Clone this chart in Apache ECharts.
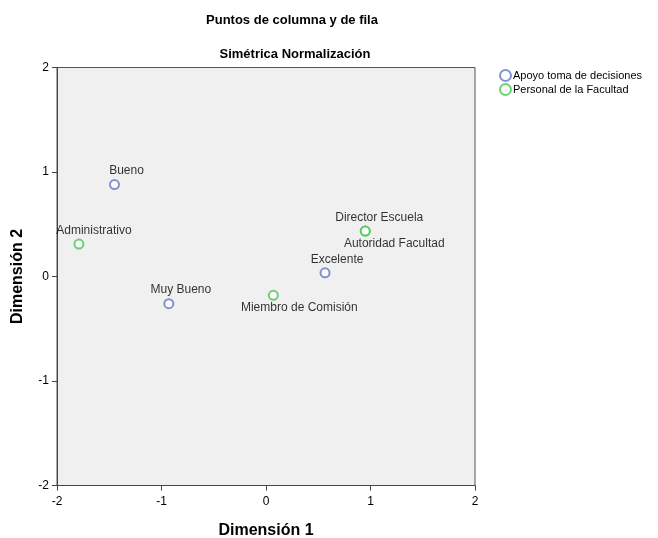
<!DOCTYPE html>
<html>
<head>
<meta charset="utf-8">
<script src="https://cdn.jsdelivr.net/npm/echarts@6/dist/echarts.min.js"></script>
<style>
  html, body { margin: 0; padding: 0; background: #fff; }
  #chart { width: 658px; height: 538px; }
</style>
</head>
<body>
<div id="chart"></div>
<script>
// Row points: "Apoyo toma de decisiones"
const rowNames = ['Bueno', 'Muy Bueno', 'Excelente'];
const rowDim1 = [-1.45, -0.93, 0.565];
const rowDim2 = [0.88, -0.26, 0.035];

// Column points: "Personal de la Facultad"
const colNames = ['Administrativo', 'Miembro de Comisión', 'Director Escuela', 'Autoridad Facultad'];
const colDim1 = [-1.79, 0.07, 0.95, 0.95];
const colDim2 = [0.31, -0.18, 0.435, 0.435];

const axisTicks = [-2, -1, 0, 1, 2];
const seriesNames = ['Apoyo toma de decisiones', 'Personal de la Facultad'];

// Label placement per point (side and horizontal shift)
const labelPlace = {
  'Bueno': ['top', 12],
  'Muy Bueno': ['top', 12],
  'Excelente': ['top', 12],
  'Administrativo': ['top', 15],
  'Miembro de Comisión': ['bottom', 26],
  'Director Escuela': ['top', 14],
  'Autoridad Facultad': ['bottom', 29]
};

const FONT = '"Liberation Sans", Arial, sans-serif';

function buildData(names, xs, ys) {
  return names.map((n, i) => {
    const p = labelPlace[n];
    return {
      name: n,
      value: [xs[i], ys[i]],
      label: { position: p[0], offset: [p[1], 0], distance: p[0] === 'top' ? 2 : 1 }
    };
  });
}

const chart = echarts.init(document.getElementById('chart'));

const labelStyle = {
  show: true,
  formatter: '{b}',
  color: '#000',
  fontFamily: FONT,
  fontSize: 12
};

chart.setOption({
  animation: false,
  backgroundColor: '#ffffff',
  title: [
    {
      text: 'Puntos de columna y de fila',
      left: 287, top: 9, textAlign: 'center',
      textStyle: { fontFamily: FONT, fontSize: 13, fontWeight: 'bold', color: '#000' }
    },
    {
      text: 'Simétrica Normalización',
      left: 290, top: 43, textAlign: 'center',
      textStyle: { fontFamily: FONT, fontSize: 13, fontWeight: 'bold', color: '#000' }
    }
  ],
  legend: {
    orient: 'vertical',
    left: 494, top: 64,
    itemWidth: 11, itemHeight: 11, itemGap: 1,
    icon: 'emptyCircle',
    textStyle: { fontFamily: FONT, fontSize: 11, color: '#000', padding: [0, 0, 0, -3] },
    data: seriesNames
  },
  grid: {
    left: 57, top: 67.5, width: 418, height: 418,
    outerBoundsMode: 'none',
    containLabel: false,
    show: true,
    backgroundColor: '#f0f0f0',
    borderColor: '#555555',
    borderWidth: 1
  },
  xAxis: {
    type: 'value',
    min: axisTicks[0], max: axisTicks[axisTicks.length - 1], interval: 1,
    name: 'Dimensión 1',
    nameLocation: 'middle',
    nameGap: 37,
    nameTextStyle: { fontFamily: FONT, fontSize: 16, fontWeight: 'bold', color: '#000' },
    axisLine: { show: true, onZero: false, lineStyle: { color: '#444', width: 1 } },
    axisTick: { show: true, length: 5, lineStyle: { color: '#444' } },
    axisLabel: { fontFamily: FONT, fontSize: 12, color: '#000', margin: 10 },
    splitLine: { show: false }
  },
  yAxis: {
    type: 'value',
    min: axisTicks[0], max: axisTicks[axisTicks.length - 1], interval: 1,
    name: 'Dimensión 2',
    nameLocation: 'middle',
    nameGap: 31,
    nameTextStyle: { fontFamily: FONT, fontSize: 16, fontWeight: 'bold', color: '#000' },
    axisLine: { show: true, onZero: false, lineStyle: { color: '#444', width: 1 } },
    axisTick: { show: true, length: 5, lineStyle: { color: '#444' } },
    axisLabel: { fontFamily: FONT, fontSize: 12, color: '#000', margin: 8 },
    splitLine: { show: false }
  },
  series: [
    {
      name: seriesNames[0],
      type: 'scatter',
      symbol: 'emptyCircle',
      symbolSize: 9,
      itemStyle: { color: '#6478c8', borderColor: '#6478c8', borderWidth: 1.5 },
      label: labelStyle,
      data: buildData(rowNames, rowDim1, rowDim2)
    },
    {
      name: seriesNames[1],
      type: 'scatter',
      symbol: 'emptyCircle',
      symbolSize: 9,
      itemStyle: { color: '#4cc454', borderColor: '#4cc454', borderWidth: 1.5 },
      label: labelStyle,
      data: buildData(colNames, colDim1, colDim2)
    }
  ]
});
</script>
</body>
</html>
